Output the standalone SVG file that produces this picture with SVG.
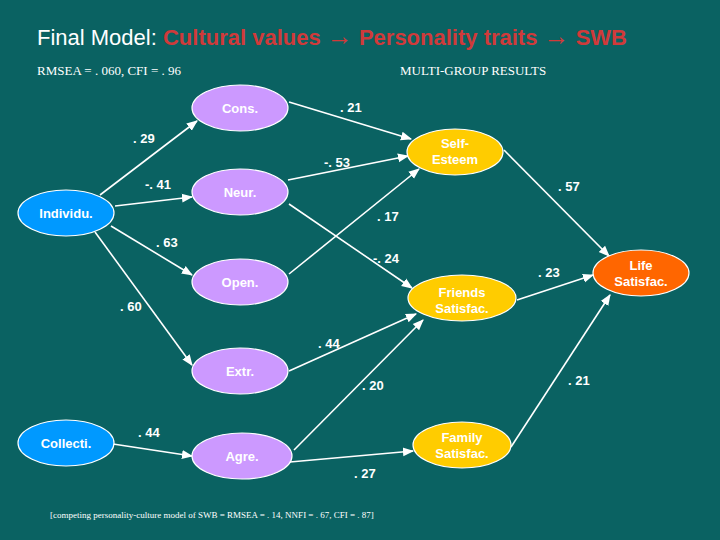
<svg xmlns="http://www.w3.org/2000/svg" width="720" height="540" viewBox="0 0 720 540">
<defs>
<marker id="ah" viewBox="0 0 10 10" refX="9" refY="5" markerWidth="7" markerHeight="7" orient="auto"><path d="M0,1 L10,5 L0,9 z" fill="#fff"/></marker>
</defs>
<style>
.n{stroke:#fff;stroke-width:1.2}
.t{font-family:"Liberation Sans",Arial,sans-serif;font-size:13px;font-weight:bold;fill:#fff;text-anchor:middle}
.l{font-family:"Liberation Sans",Arial,sans-serif;font-size:13px;font-weight:bold;fill:#fff}
.e{stroke:#fff;stroke-width:1.6;fill:none;marker-end:url(#ah)}
.p{fill:#cc99ff}.b{fill:#0099ff}.y{fill:#ffcc00}.o{fill:#ff6600}
</style>
<rect width="720" height="540" fill="#0a6262"/>
<text x="37" y="45" font-family="Liberation Sans,Arial,sans-serif" font-size="22" fill="#fff">Final Model:  <tspan fill="#d03a3a" font-weight="bold">Cultural values <tspan font-size="26">→</tspan> Personality traits <tspan font-size="26">→</tspan> SWB</tspan></text>
<text x="37" y="75" font-family="Liberation Serif,serif" font-size="13" fill="#fff">RMSEA = . 060, CFI = . 96</text>
<text x="400" y="75" font-family="Liberation Serif,serif" font-size="13" fill="#fff">MULTI-GROUP RESULTS</text>
<g id="connectors">
<line class="e" x1="100" y1="195" x2="197" y2="121"/>
<line class="e" x1="115" y1="206" x2="192" y2="197"/>
<line class="e" x1="111" y1="226" x2="192" y2="275"/>
<line class="e" x1="95" y1="232" x2="192" y2="365"/>
<line class="e" x1="113" y1="444" x2="192" y2="456"/>
<line class="e" x1="289" y1="102" x2="411" y2="139"/>
<line class="e" x1="288" y1="180" x2="408" y2="156"/>
<line class="e" x1="289" y1="274" x2="419" y2="169"/>
<line class="e" x1="289" y1="204" x2="412" y2="288"/>
<line class="e" x1="289" y1="371" x2="416" y2="314"/>
<line class="e" x1="294" y1="450" x2="423" y2="320"/>
<line class="e" x1="290" y1="462" x2="413" y2="451"/>
<line class="e" x1="504" y1="150" x2="609" y2="256"/>
<line class="e" x1="517" y1="300" x2="593" y2="275"/>
<line class="e" x1="511" y1="447" x2="610" y2="295"/>
</g>
<g id="labels">
<text class="l" x="133" y="143">. 29</text>
<text class="l" x="145" y="189">-. 41</text>
<text class="l" x="156" y="247">. 63</text>
<text class="l" x="120" y="311">. 60</text>
<text class="l" x="340" y="112">. 21</text>
<text class="l" x="324" y="167">-. 53</text>
<text class="l" x="377" y="221">. 17</text>
<text class="l" x="373" y="263">-. 24</text>
<text class="l" x="558" y="191">. 57</text>
<text class="l" x="538" y="277">. 23</text>
<text class="l" x="318" y="348">. 44</text>
<text class="l" x="362" y="390">. 20</text>
<text class="l" x="138" y="437">. 44</text>
<text class="l" x="354" y="478">. 27</text>
<text class="l" x="568" y="385">. 21</text>
</g>
<g id="cons"><ellipse class="n p" cx="240" cy="108" rx="48" ry="23"/><text class="t" x="240" y="113">Cons.</text></g>
<g id="neur"><ellipse class="n p" cx="240" cy="192" rx="48" ry="23"/><text class="t" x="240" y="197">Neur.</text></g>
<g id="open"><ellipse class="n p" cx="240" cy="282" rx="48" ry="23"/><text class="t" x="240" y="287">Open.</text></g>
<g id="extr"><ellipse class="n p" cx="240" cy="371" rx="48" ry="23"/><text class="t" x="240" y="376">Extr.</text></g>
<g id="agre"><ellipse class="n p" cx="242" cy="456" rx="50" ry="23"/><text class="t" x="242" y="461">Agre.</text></g>
<g id="individu"><ellipse class="n b" cx="66" cy="213" rx="48" ry="23"/><text class="t" x="66" y="218">Individu.</text></g>
<g id="collecti"><ellipse class="n b" cx="66" cy="443" rx="48" ry="23"/><text class="t" x="66" y="448">Collecti.</text></g>
<g id="selfesteem"><ellipse class="n y" cx="455" cy="152" rx="48" ry="23"/><text class="t" x="455" y="148">Self-</text><text class="t" x="455" y="164">Esteem</text></g>
<g id="friends"><ellipse class="n y" cx="462" cy="298" rx="54" ry="23"/><text class="t" x="462" y="297">Friends</text><text class="t" x="462" y="313">Satisfac.</text></g>
<g id="family"><ellipse class="n y" cx="462" cy="445" rx="49" ry="23"/><text class="t" x="462" y="442">Family</text><text class="t" x="462" y="458">Satisfac.</text></g>
<g id="life"><ellipse class="n o" cx="641" cy="273" rx="48" ry="23"/><text class="t" x="641" y="270">Life</text><text class="t" x="641" y="286">Satisfac.</text></g>
<text x="50" y="518" font-family="Liberation Serif,serif" font-size="9" fill="#fff">[competing personality-culture model of SWB = RMSEA = . 14, NNFI = . 67, CFI = . 87]</text>
</svg>
